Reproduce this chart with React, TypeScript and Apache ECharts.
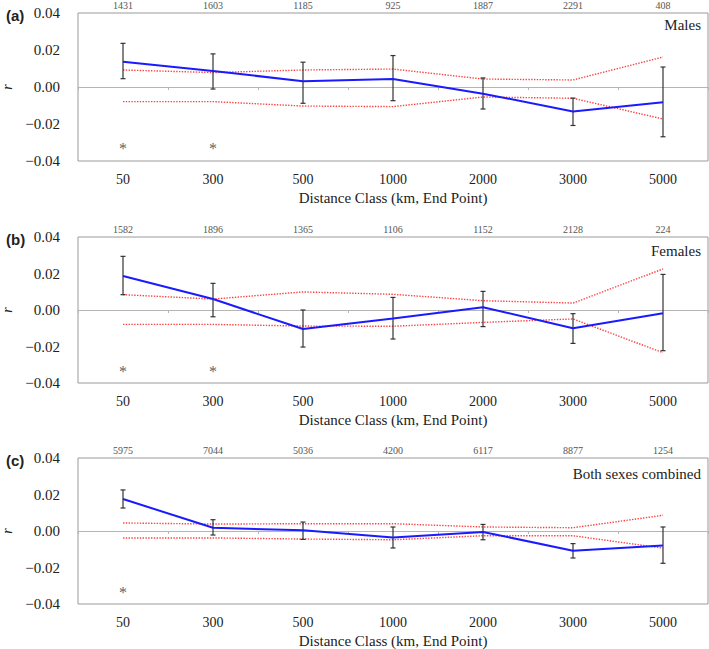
import React, { useEffect, useRef } from "react";
import * as echarts from "echarts";

const categories = ["50", "300", "500", "1000", "2000", "3000", "5000"];

const malesN = ["1431", "1603", "1185", "925", "1887", "2291", "408"];
const femalesN = ["1582", "1896", "1365", "1106", "1152", "2128", "224"];
const bothN = ["5975", "7044", "5036", "4200", "6117", "8877", "1254"];

const malesR = [0.0137, 0.0087, 0.0031, 0.0043, -0.0036, -0.0132, -0.0083];
const malesHi = [0.0236, 0.0179, 0.0134, 0.017, 0.0049, -0.006, 0.0108];
const malesLo = [0.0045, -0.0011, -0.0088, -0.0074, -0.0119, -0.0208, -0.0269];
const malesU = [0.0092, 0.0078, 0.0092, 0.0097, 0.0043, 0.0038, 0.0162];
const malesL = [-0.0079, -0.0079, -0.0103, -0.0106, -0.0054, -0.0061, -0.0173];
const malesSig = [true, true, false, false, false, false, false];

const femalesR = [0.0186, 0.006, -0.0104, -0.0047, 0.0015, -0.01, -0.0018];
const femalesHi = [0.0294, 0.0146, 0.0, 0.0069, 0.0102, -0.002, 0.0195];
const femalesLo = [0.0084, -0.0037, -0.0203, -0.0159, -0.0091, -0.0183, -0.0223];
const femalesU = [0.0084, 0.006, 0.0099, 0.0086, 0.0051, 0.0038, 0.0225];
const femalesL = [-0.0079, -0.0079, -0.0088, -0.0089, -0.0068, -0.0049, -0.0234];
const femalesSig = [true, true, false, false, false, false, false];

const bothR = [0.0175, 0.0018, 0.0004, -0.0036, -0.0005, -0.0108, -0.0079];
const bothHi = [0.0225, 0.0062, 0.0049, 0.0022, 0.0036, -0.0069, 0.0022];
const bothLo = [0.0126, -0.0022, -0.0046, -0.0093, -0.0048, -0.0148, -0.0177];
const bothU = [0.0044, 0.0038, 0.004, 0.004, 0.0022, 0.0018, 0.0086];
const bothL = [-0.0038, -0.0038, -0.0044, -0.0048, -0.0026, -0.0026, -0.0094];
const bothSig = [true, false, false, false, false, false, false];

const panels = [
  { tag: "(a)", name: "Males", n: malesN, r: malesR, hi: malesHi, lo: malesLo, u: malesU, l: malesL, sig: malesSig },
  { tag: "(b)", name: "Females", n: femalesN, r: femalesR, hi: femalesHi, lo: femalesLo, u: femalesU, l: femalesL, sig: femalesSig },
  { tag: "(c)", name: "Both sexes combined", n: bothN, r: bothR, hi: bothHi, lo: bothLo, u: bothU, l: bothL, sig: bothSig },
];

const SERIF = "Liberation Serif";
const SANS = "Liberation Sans";
const ASTERISK_Y = -0.0335;

const gridTops = [13, 237, 458];
const gridHeights = [148, 146, 146];
const nameTops = [17, 243, 466];

function buildOption() {
  const grid: any[] = [];
  const xAxis: any[] = [];
  const yAxis: any[] = [];
  const series: any[] = [];
  const title: any[] = [];

  panels.forEach((p, i) => {
    grid.push({
      left: 78,
      width: 630,
      top: gridTops[i],
      height: gridHeights[i],
      containLabel: false,
      outerBoundsMode: "none",
      show: true,
      borderColor: "#9a9a9a",
      borderWidth: 1,
      backgroundColor: "transparent",
    });
    xAxis.push({
      type: "category",
      gridIndex: i,
      data: categories,
      position: "bottom",
      boundaryGap: true,
      axisLine: { show: false, onZero: false },
      axisTick: { show: false },
      axisLabel: { color: "#222", fontFamily: SERIF, fontSize: 14, margin: 11 },
      name: "Distance Class (km, End Point)",
      nameLocation: "middle",
      nameGap: 29,
      nameTextStyle: { color: "#222", fontFamily: SERIF, fontSize: 15 },
      splitLine: { show: false },
    });
    xAxis.push({
      type: "category",
      gridIndex: i,
      data: p.n,
      position: "top",
      boundaryGap: true,
      axisLine: { show: false, onZero: false },
      axisTick: { show: false },
      axisLabel: { color: "#555", fontFamily: SERIF, fontSize: 10, margin: 3 },
      splitLine: { show: false },
    });
    xAxis.push({
      type: "category",
      gridIndex: i,
      data: categories,
      position: "bottom",
      boundaryGap: true,
      axisLine: { show: true, onZero: true, lineStyle: { color: "#b5b5b5", width: 1 } },
      axisTick: { show: true, length: 3, lineStyle: { color: "#b5b5b5" } },
      axisLabel: { show: false },
      splitLine: { show: false },
    });
    yAxis.push({
      type: "value",
      gridIndex: i,
      min: -0.04,
      max: 0.04,
      interval: 0.02,
      axisLine: { show: false },
      axisTick: { show: false },
      splitLine: { show: false },
      axisLabel: {
        color: "#222",
        fontFamily: SERIF,
        fontSize: 15,
        margin: 18,
        formatter: (v: number) => {
          const s = Math.abs(v) < 1e-9 ? "0.00" : v.toFixed(2);
          return s.replace("-", "\u2212");
        },
      },
      name: "r",
      nameLocation: "middle",
      nameRotate: 90,
      nameGap: 63,
      nameTextStyle: { color: "#222", fontFamily: SERIF, fontSize: 14, fontStyle: "italic" },
    });

    const xi = i * 3;
    series.push({
      type: "line",
      xAxisIndex: xi,
      yAxisIndex: i,
      data: p.u,
      symbol: "none",
      lineStyle: { color: "#ff4040", width: 1.4, type: "dotted" },
      z: 2,
    });
    series.push({
      type: "line",
      xAxisIndex: xi,
      yAxisIndex: i,
      data: p.l,
      symbol: "none",
      lineStyle: { color: "#ff4040", width: 1.4, type: "dotted" },
      z: 2,
    });
    series.push({
      type: "custom",
      xAxisIndex: xi,
      yAxisIndex: i,
      data: categories.map((_, k) => [k, p.lo[k], p.hi[k]]),
      encode: { x: 0, y: [1, 2] },
      renderItem: (params: any, api: any) => {
        const x = api.value(0);
        const top = api.coord([x, api.value(2)]);
        const bot = api.coord([x, api.value(1)]);
        const w = 2.5;
        const st = { stroke: "#333", lineWidth: 1.2 };
        return {
          type: "group",
          children: [
            { type: "line", shape: { x1: top[0], y1: top[1], x2: bot[0], y2: bot[1] }, style: st },
            { type: "line", shape: { x1: top[0] - w, y1: top[1], x2: top[0] + w, y2: top[1] }, style: st },
            { type: "line", shape: { x1: bot[0] - w, y1: bot[1], x2: bot[0] + w, y2: bot[1] }, style: st },
          ],
        };
      },
      z: 3,
    });
    series.push({
      type: "line",
      xAxisIndex: xi,
      yAxisIndex: i,
      data: p.r,
      symbol: "none",
      lineStyle: { color: "#1a1aff", width: 2 },
      z: 4,
    });
    series.push({
      type: "scatter",
      xAxisIndex: xi,
      yAxisIndex: i,
      data: p.sig.map((s, k) => (s ? [k, ASTERISK_Y] : null)).filter((d) => d !== null),
      symbolSize: 0,
      itemStyle: { color: "#333" },
      label: {
        show: true,
        position: "inside",
        formatter: "*",
        color: "#333",
        textBorderWidth: 0,
        textBorderColor: "transparent",
        fontFamily: SERIF,
        fontSize: 16,
      },
      z: 5,
    });

    title.push({
      text: p.tag,
      left: 1,
      top: gridTops[i] - 10,
      textStyle: { fontFamily: SANS, fontWeight: "bold", fontSize: 15, color: "#222" },
    });
    title.push({
      text: p.name,
      right: 8,
      top: nameTops[i],
      padding: 0,
      textStyle: { fontFamily: SERIF, fontWeight: "normal", fontSize: 15, color: "#222" },
    });
  });

  return { animation: false, backgroundColor: "#fff", grid, xAxis, yAxis, series, title };
}

export default function App() {
  const ref = useRef<HTMLDivElement>(null);
  useEffect(() => {
    if (!ref.current) return;
    const chart = echarts.init(ref.current, undefined, { renderer: "svg" });
    chart.setOption(buildOption() as any);
    return () => chart.dispose();
  }, []);
  return (
    <div
      ref={ref}
      style={{ position: "fixed", left: 0, top: 0, width: 709, height: 649, background: "#fff" }}
    />
  );
}
